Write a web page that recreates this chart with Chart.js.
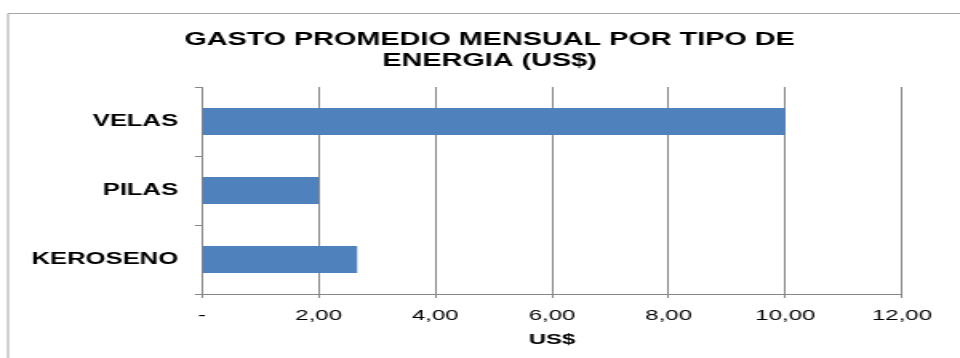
<!DOCTYPE html>
<html>
<head>
<meta charset="utf-8">
<script src="https://cdn.jsdelivr.net/npm/chart.js@4/dist/chart.umd.min.js"></script>
<style>
  html, body { margin: 0; padding: 0; background: #fff; overflow: hidden; width: 960px; height: 358px; }
  #wrap { position: absolute; left: 0; top: 0; width: 612px; height: 358px; transform: scaleX(1.6); transform-origin: 0 0; }
  canvas { display: block; }
</style>
</head>
<body>
<div id="wrap"><canvas id="c" width="612" height="358"></canvas></div>
<script>
const categories = ["VELAS", "PILAS", "KEROSENO"];
const values = [10.0, 2.0, 2.66];
const xTickValues = [0, 2, 4, 6, 8, 10, 12];
const titleLines = ["GASTO PROMEDIO MENSUAL POR TIPO DE", "ENERGIA (US$)"];
const xAxisTitle = "US$";

const FONT = "'Liberation Sans', Arial, sans-serif";
const S = 1.6;

const framePlugin = {
  id: 'frame',
  beforeDraw(chart) {
    const ctx = chart.ctx;
    ctx.save();
    ctx.fillStyle = '#ffffff';
    ctx.fillRect(0, 0, chart.width, chart.height);
    ctx.strokeStyle = '#a6a6a6';
    ctx.lineWidth = 1;
    ctx.beginPath();
    ctx.moveTo(8 / S, chart.height + 2);
    ctx.lineTo(8 / S, 13.5);
    ctx.lineTo(chart.width + 2, 13.5);
    ctx.stroke();
    ctx.restore();
  }
};

new Chart(document.getElementById('c'), {
  type: 'bar',
  data: {
    labels: categories,
    datasets: [{
      data: values,
      backgroundColor: '#4F81BD',
      borderWidth: 0,
      categoryPercentage: 1.0,
      barPercentage: 0.39
    }]
  },
  plugins: [framePlugin],
  options: {
    indexAxis: 'y',
    responsive: false,
    animation: false,
    devicePixelRatio: 1,
    layout: { padding: { left: 0, right: 0, top: 0, bottom: 0 } },
    plugins: {
      legend: { display: false },
      tooltip: { enabled: false },
      title: {
        display: true,
        text: titleLines,
        color: '#000',
        font: { family: FONT, size: 18, weight: 'bold', lineHeight: 1.167 },
        padding: { top: 30, bottom: 15 }
      }
    },
    scales: {
      x: {
        min: 0,
        max: 12,
        afterBuildTicks(scale) { scale.ticks = xTickValues.map(v => ({ value: v })); },
        afterFit(scale) { scale.height = 64; },
        ticks: {
          color: '#000',
          font: { family: FONT, size: 15 },
          padding: 9,
          callback(v) { return v === 0 ? '-' : Number(v).toFixed(2).replace('.', ','); }
        },
        grid: { color: '#868686', lineWidth: 1, tickLength: 4, drawTicks: true },
        border: { color: '#868686', width: 1 },
        title: {
          display: true,
          text: xAxisTitle,
          color: '#000',
          font: { family: FONT, size: 15, weight: 'bold', lineHeight: 1.2 },
          padding: { top: 0, bottom: 9 }
        }
      },
      y: {
        afterFit(scale) { scale.width = 126.25; },
        ticks: {
          color: '#000',
          font: { family: FONT, size: 16, weight: 'bold' },
          padding: 10.5
        },
        grid: { drawOnChartArea: false, color: '#868686', tickLength: 4.4, offset: true },
        border: { color: '#868686', width: 1 }
      },
      yRightSpace: {
        type: 'category',
        position: 'right',
        afterFit(scale) { scale.width = 48.25; },
        ticks: { display: false },
        grid: { display: false, drawTicks: false },
        border: { display: false }
      }
    }
  }
});
</script>
</body>
</html>
